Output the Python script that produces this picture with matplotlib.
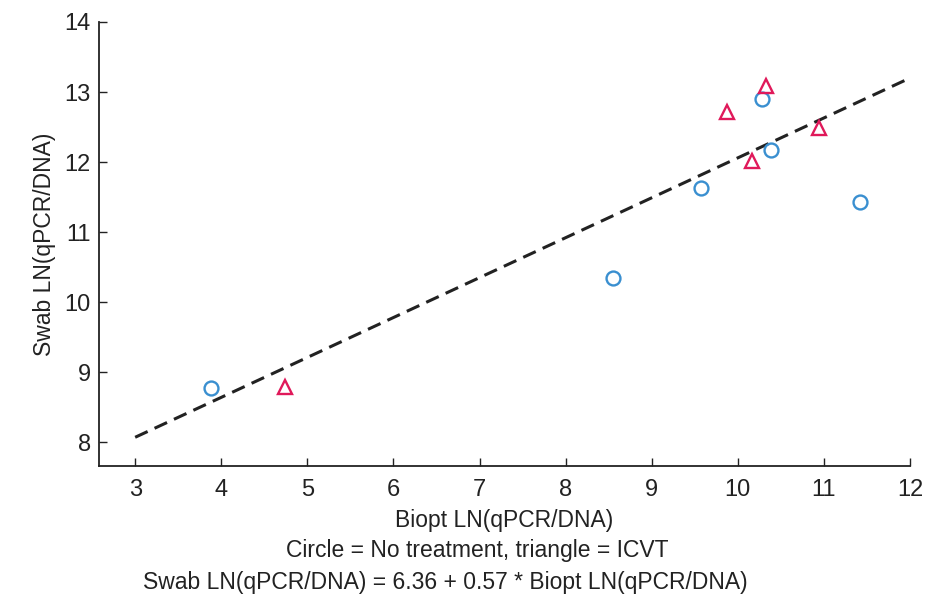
import numpy as np
import matplotlib
matplotlib.use('Agg')
import matplotlib.pyplot as plt

plt.rcParams['font.family'] = ['Liberation Sans', 'DejaVu Sans']

# no treatment (circles)
circle_x = [3.88, 8.55, 9.57, 10.28, 10.39, 11.42]
circle_y = [8.77, 10.35, 11.63, 12.90, 12.17, 11.43]
# ICVT (triangles)
tri_x = [4.74, 9.88, 10.33, 10.17, 10.94]
tri_y = [8.79, 12.71, 13.08, 12.02, 12.49]
# regression
intercept = 6.36
slope = 0.57
fit_range = [3, 12]

fig = plt.figure(figsize=(9.25, 5.99), dpi=100)
ax = fig.add_axes([99 / 925, 1 - 466 / 599, (910 - 99) / 925, (466 - 22) / 599])

fx = np.array(fit_range)
ax.plot(fx, intercept + slope * fx, ls=(0, (4.5, 2.5)), color='#222222', lw=2.2)
ax.plot(circle_x, circle_y, 'o', ms=10, mfc='none', mec='#3a8fd0', mew=1.7)
ax.plot(tri_x, tri_y, '^', ms=10, mfc='none', mec='#e0195a', mew=1.7)

ax.set_xlim(2.58, 12)
ax.set_ylim(7.66, 14)
ax.set_xticks(range(3, 13))
ax.set_yticks(range(8, 15))
ax.spines['top'].set_visible(False)
ax.spines['right'].set_visible(False)
for s in ['left', 'bottom']:
    ax.spines[s].set_linewidth(1.3)
    ax.spines[s].set_color('#222222')
ax.tick_params(direction='in', length=6, width=1, colors='#222222',
               labelsize=17, pad=9)
ax.tick_params(axis='y', pad=6)

ax.set_xlabel('Biopt LN(qPCR/DNA)', fontsize=16.5, labelpad=6, color='#222222')
ax.set_ylabel('Swab LN(qPCR/DNA)', fontsize=16.5, labelpad=6, color='#222222')

fig.text(477 / 925, 1 - 550 / 599, 'Circle = No treatment, triangle = ICVT',
         ha='center', va='center', fontsize=16.5, color='#222222')
fig.text(445 / 925, 1 - 583 / 599,
         'Swab LN(qPCR/DNA) = 6.36 + 0.57 * Biopt LN(qPCR/DNA)',
         ha='center', va='center', fontsize=16.5, color='#222222')

fig.savefig('out.png', dpi=100)
